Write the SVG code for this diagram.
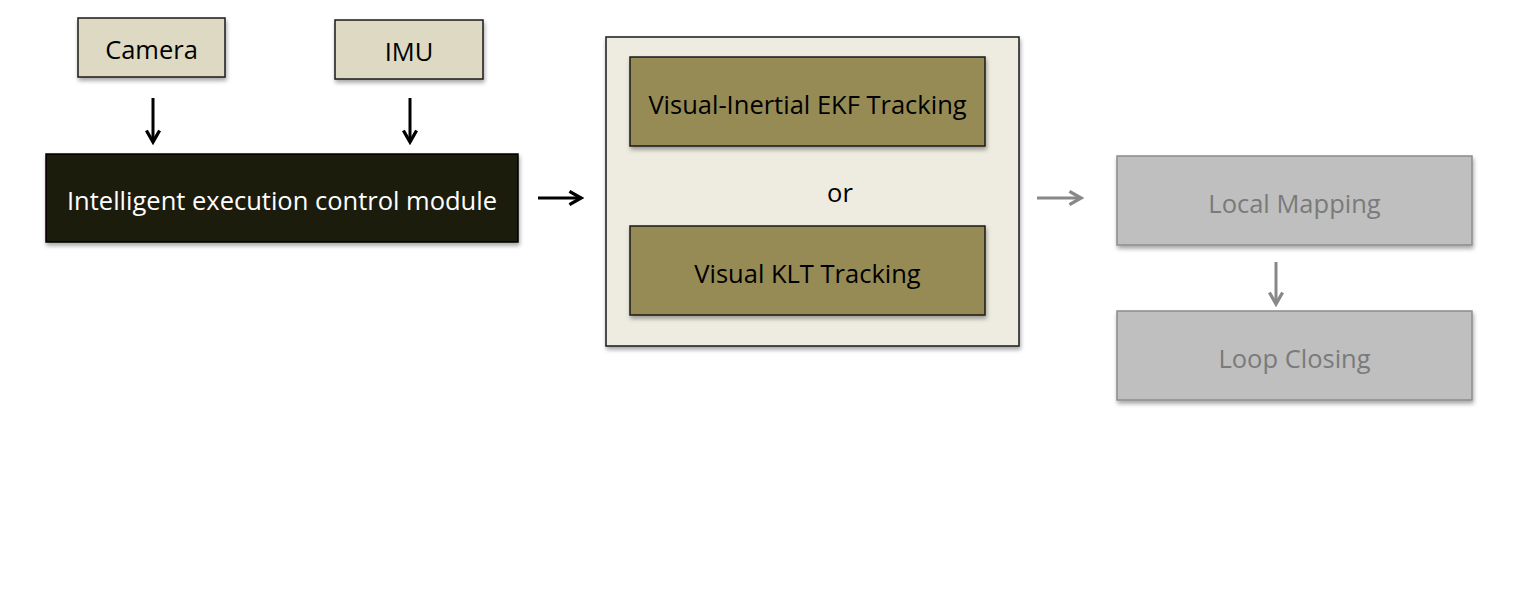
<svg xmlns="http://www.w3.org/2000/svg" width="1514" height="605" viewBox="0 0 1514 605">
<style>
text{font-family:"Open Sans","Noto Sans","Liberation Sans",sans-serif;font-size:25.5px;text-anchor:middle;dominant-baseline:central}
.src{fill:#ddd9c3;stroke:#1a1a1a;stroke-width:1.5}
.blk{fill:#1d1b11;stroke:#000;stroke-width:1.5}
.cont{fill:#eeebe0;stroke:#1a1a1a;stroke-width:1.5}
.trk{fill:#968b55;stroke:#1a1a1a;stroke-width:1.5}
.gry{fill:#bfbfbf;stroke:#8c8c8c;stroke-width:1.5}
.dk{stroke:#000;stroke-width:3;fill:none}
.lt{stroke:#888;stroke-width:3;fill:none}
</style>
<defs>
<filter id="sh" x="-10%" y="-10%" width="130%" height="140%">
<feDropShadow dx="1" dy="3" stdDeviation="2" flood-color="#000" flood-opacity="0.35"/>
</filter>
<marker id="ab" viewBox="0 0 10 10" refX="8" refY="5" markerWidth="5.5" markerHeight="5.5" orient="auto" markerUnits="strokeWidth">
<path d="M1,1 L8,5 L1,9" fill="none" stroke="#000" stroke-width="2"/>
</marker>
<marker id="ag" viewBox="0 0 10 10" refX="8" refY="5" markerWidth="5.5" markerHeight="5.5" orient="auto" markerUnits="strokeWidth">
<path d="M1,1 L8,5 L1,9" fill="none" stroke="#888" stroke-width="2"/>
</marker>
</defs>
<rect width="1514" height="605" fill="#fff"/>
<g id="connectors">
<line class="dk" x1="153" y1="98" x2="153" y2="142" marker-end="url(#ab)"/>
<line class="dk" x1="410" y1="98" x2="410" y2="142" marker-end="url(#ab)"/>
<line class="dk" x1="538" y1="198" x2="581" y2="198" marker-end="url(#ab)"/>
<line class="lt" x1="1037" y1="198" x2="1081" y2="198" marker-end="url(#ag)"/>
<line class="lt" x1="1276" y1="262" x2="1276" y2="304" marker-end="url(#ag)"/>
</g>
<g id="camera"><rect class="src" x="78" y="18" width="147" height="59" filter="url(#sh)"/><text x="151.5" y="49" fill="#000">Camera</text></g>
<g id="imu"><rect class="src" x="335" y="20" width="148" height="59" filter="url(#sh)"/><text x="409" y="51" fill="#000">IMU</text></g>
<g id="control"><rect class="blk" x="46" y="154" width="472" height="88" filter="url(#sh)"/><text x="282" y="200" fill="#fff">Intelligent execution control module</text></g>
<g id="tracking">
<rect class="cont" x="606" y="37" width="413" height="309" filter="url(#sh)"/>
<g id="ekf"><rect class="trk" x="630" y="57" width="355" height="89" filter="url(#sh)"/><text x="807.5" y="104" fill="#000">Visual-Inertial EKF Tracking</text></g>
<text x="840" y="192" fill="#000">or</text>
<g id="klt"><rect class="trk" x="630" y="226" width="355" height="89" filter="url(#sh)"/><text x="807.5" y="273" fill="#000">Visual KLT Tracking</text></g>
</g>
<g id="localmapping"><rect class="gry" x="1117" y="156" width="355" height="89" filter="url(#sh)"/><text x="1294.5" y="203" fill="#7a7a7a">Local Mapping</text></g>
<g id="loopclosing"><rect class="gry" x="1117" y="311" width="355" height="89" filter="url(#sh)"/><text x="1294.5" y="358" fill="#7a7a7a">Loop Closing</text></g>
</svg>
